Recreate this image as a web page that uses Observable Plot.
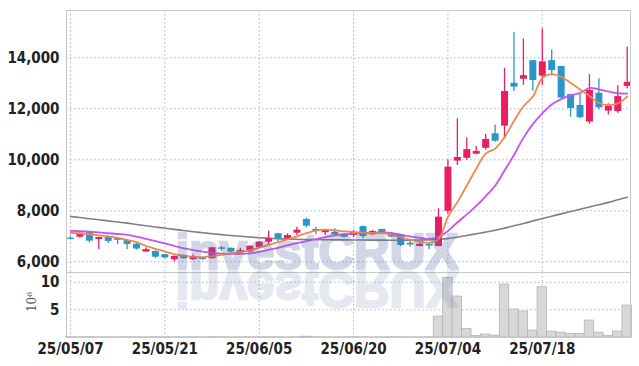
<!DOCTYPE html>
<html><head><meta charset="utf-8">
<script src="https://cdn.jsdelivr.net/npm/d3@7"></script>
<script src="https://cdn.jsdelivr.net/npm/@observablehq/plot@0.6"></script>
<style>
html,body{margin:0;padding:0;background:#fff;}
#chart svg{display:block;}
</style></head><body><div id="chart"></div>
<script>
const dates = ["25/05/07","25/05/08","25/05/09","25/05/12","25/05/13","25/05/14","25/05/15","25/05/16","25/05/19","25/05/20",
"25/05/21","25/05/22","25/05/23","25/05/26","25/05/27","25/05/28","25/05/29","25/05/30","25/06/02","25/06/04",
"25/06/05","25/06/09","25/06/10","25/06/11","25/06/12","25/06/13","25/06/16","25/06/17","25/06/18","25/06/19",
"25/06/20","25/06/23","25/06/24","25/06/25","25/06/26","25/06/27","25/06/30","25/07/01","25/07/02","25/07/03",
"25/07/04","25/07/07","25/07/08","25/07/09","25/07/10","25/07/11","25/07/14","25/07/15","25/07/16","25/07/17",
"25/07/18","25/07/21","25/07/22","25/07/23","25/07/24","25/07/25","25/07/28","25/07/29","25/07/30","25/07/31"];

const open = [6930,6965,7140,6870,6950,6920,6830,6690,6380,6400,
6280,6080,6250,6080,6150,6120,6550,6530,6380,6380,
6550,6770,7100,6900,7120,7660,7270,7140,7160,7080,
7030,7380,7060,7270,7120,7060,6730,6600,6680,6600,
7980,9950,10060,10220,10450,11020,11320,13000,13160,13890,
13280,13890,13660,12560,12130,11480,12610,11910,11890,12880];
const high = [6990,7140,7150,6960,7000,6940,6850,6720,6550,6430,
6300,6230,6260,6275,6160,6560,6600,6540,6530,6620,
6800,7200,7110,7100,7350,7710,7350,7260,7300,7100,
7240,7400,7230,7280,7160,7070,6810,6730,6700,8080,
9990,11610,10860,10520,10990,11370,13590,15000,14740,13900,
15140,14310,13670,12570,12560,13340,13180,12200,12900,14420];
const low = [6860,6920,6740,6480,6720,6670,6480,6460,6370,6130,
6130,6010,6100,6060,6060,6110,6420,6370,6370,6370,
6540,6680,6750,6860,7030,7330,7060,7030,6990,6930,
6950,6900,7040,7060,6940,6600,6580,6580,6470,6590,
7860,9780,9980,10200,10370,10690,10820,12680,12920,12690,
12910,13300,12400,11670,11610,11390,11960,11760,11830,12780];
const close = [6880,7120,6810,6950,6800,6840,6680,6500,6480,6180,
6150,6210,6120,6200,6090,6550,6490,6380,6440,6610,
6770,6900,6900,7030,7240,7400,7190,7250,7060,6960,
7160,6990,7190,7070,6970,6640,6660,6690,6620,7750,
9710,10090,10400,10330,10800,10730,12680,12850,13300,13110,
13840,13500,12420,12010,11650,12720,12040,12090,12480,13040];

const ma5 = [7137,7110,7080,7040,7000,6940,6860,6770,6620,6510,
6400,6300,6240,6195,6180,6225,6275,6335,6380,6445,
6550,6665,6770,6875,7000,7120,7220,7265,7240,7190,
7160,7140,7135,7120,7070,6965,6860,6790,6740,6880,
7750,8340,8990,9650,10240,10440,10890,11520,12100,12480,
13200,13360,13250,13020,12760,12500,12230,12150,12210,12480];
const ma10 = [7216,7200,7180,7150,7120,7090,7055,6990,6900,6810,
6720,6620,6530,6460,6395,6350,6320,6310,6310,6330,
6385,6470,6550,6640,6730,6810,6890,6970,7035,7075,
7110,7125,7145,7150,7125,7055,6995,6940,6900,6970,
7210,7540,7860,8190,8570,8980,9580,10190,10860,11400,
11820,12170,12380,12530,12620,12820,12760,12680,12610,12600];
const maLong = [7776,7735,7690,7650,7605,7560,7515,7465,7415,7365,
7318,7270,7225,7180,7140,7100,7065,7030,7000,6970,
6945,6925,6905,6890,6880,6875,6870,6865,6860,6858,
6855,6852,6850,6848,6847,6846,6848,6852,6860,6875,
6915,6965,7030,7100,7165,7235,7320,7410,7500,7600,
7700,7790,7880,7970,8060,8150,8240,8330,8430,8530];

const volume = [0.05,0.04,0.06,0.03,0.04,0.03,0.05,0.04,0.03,0.05,
0.04,0.03,0.04,0.05,0.03,0.06,0.04,0.03,0.04,0.05,
0.04,0.05,0.04,0.03,0.05,0.15,0.05,0.04,0.03,0.04,
0.05,0.04,0.03,0.04,0.05,0.04,0.03,0.04,0.05,3.78,
10.78,7.4,1.55,0.28,0.52,0.34,9.57,5.05,4.68,1.25,
9.08,1.07,0.89,0.65,0.65,3.06,0.89,0.28,1.07,5.77];

const xTicks = [0,10,20,30,40,50];
const priceTicks = [6000,8000,10000,12000,14000];
const volTicks = [5,10];

const UP = "#e91e63", DOWN = "#2b96c8";
const font = '"Liberation Sans Narrow","DejaVu Sans Condensed","Roboto",sans-serif';
const gridStyle = {stroke: "#aab2cf", strokeWidth: 1, strokeDasharray: "1.5,2.5"};

const idx = d3.range(dates.length);
const candles = idx.map(i => ({i, o: open[i], h: high[i], l: low[i], c: close[i], col: close[i] >= open[i] ? UP : DOWN}));
const lineData = (arr) => idx.map(i => ({i, v: arr[i]}));
const volData = idx.map(i => ({i, v: volume[i]}));
const xDomain = [-0.424, 59.35];

const price = Plot.plot({
  width: 639, height: 272, marginTop: 10, marginBottom: 0, marginLeft: 66, marginRight: 9,
  style: {fontFamily: font, fontSize: "15px", fontWeight: "bold", color: "#222", background: "transparent", overflow: "visible"},
  x: {type: "linear", domain: xDomain, axis: null},
  y: {domain: [5580, 15856], ticks: priceTicks, tickFormat: d3.format(","), tickSize: 0, tickPadding: 7, label: null},
  marks: [
    Plot.ruleY(priceTicks, gridStyle),
    Plot.ruleX(xTicks, gridStyle),
    Plot.line(lineData(maLong), {x: "i", y: "v", stroke: "#808080", strokeWidth: 1.6, curve: "catmull-rom"}),
    Plot.ruleX(candles, {x: "i", y1: "l", y2: "h", stroke: "col", strokeWidth: 1.3}),
    Plot.ruleX(candles, {x: "i", y1: "o", y2: "c", stroke: "col", strokeWidth: 7}),
    Plot.line(lineData(ma10), {x: "i", y: "v", stroke: "#c455ee", strokeWidth: 1.8, curve: "catmull-rom"}),
    Plot.line(lineData(ma5), {x: "i", y: "v", stroke: "#f0874c", strokeWidth: 1.8, curve: "catmull-rom"}),
    Plot.frame({stroke: "#c8c8c8"})
  ]
});

const vol = Plot.plot({
  width: 639, height: 94, marginTop: 0, marginBottom: 29, marginLeft: 66, marginRight: 9,
  style: {fontFamily: font, fontSize: "15px", fontWeight: "bold", color: "#222", background: "transparent", overflow: "visible"},
  x: {type: "linear", domain: xDomain, ticks: xTicks, tickFormat: i => dates[i], tickSize: 0, tickPadding: 6, label: null},
  y: {domain: [0, 11.75], ticks: volTicks, tickSize: 0, tickPadding: 7, label: null},
  marks: [
    Plot.ruleY(volTicks, gridStyle),
    Plot.ruleX(xTicks, gridStyle),
    Plot.rectY(volData, {x1: d => d.i - 0.5, x2: d => d.i + 0.5, y: "v", fill: "#d8d8d8", stroke: "#b4b4b4", strokeWidth: 0.8}),
    Plot.frame({stroke: "#c8c8c8"})
  ]
});

const root = document.getElementById("chart");
root.appendChild(price);
root.appendChild(vol);

// watermark (on top, translucent, heavy letters)
function watermark(svg, y, flip, op) {
  const t = d3.select(svg).append("text")
    .attr("x", 317).attr("y", y)
    .attr("text-anchor", "middle")
    .attr("textLength", 283).attr("lengthAdjust", "spacingAndGlyphs")
    .style("font-family", '"Liberation Sans","DejaVu Sans",sans-serif')
    .style("font-weight", "bold").style("font-size", "50px")
    .attr("fill", "#5b6ca6").attr("stroke", "#5b6ca6").attr("stroke-width", 2.4)
    .attr("stroke-linejoin", "round")
    .attr("opacity", op)
    .text("investCRUX");
  if (flip) t.attr("transform", "scale(1,-1)");
}
watermark(price, 269, false, 0.27);
watermark(vol, 0.5, true, 0.15);

// volume unit label
d3.select(vol).append("text")
  .attr("transform", "translate(36,30) rotate(-90)")
  .attr("text-anchor", "middle")
  .style("font-family", '"DejaVu Serif",serif').style("font-size", "12px").style("font-weight", "normal")
  .attr("fill", "#555")
  .text("10⁶");
</script>
</body></html>
